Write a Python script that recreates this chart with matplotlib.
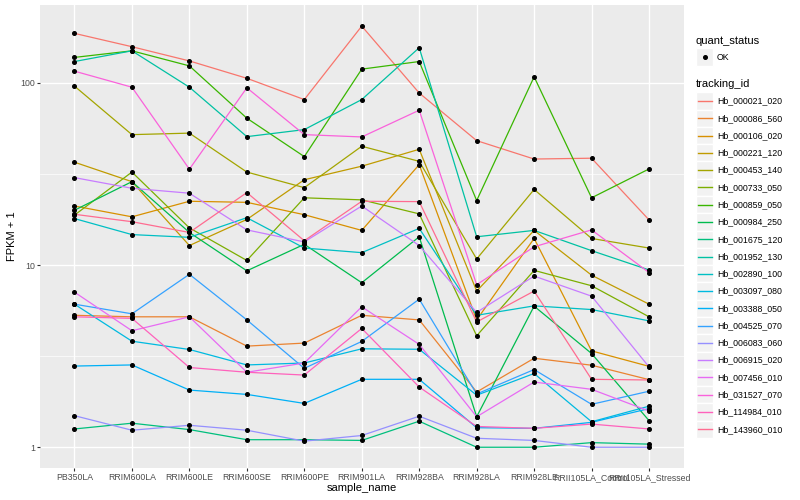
import matplotlib
matplotlib.use("Agg")
import matplotlib.pyplot as plt
from matplotlib.patches import Rectangle
from matplotlib.lines import Line2D

plt.rcParams['font.family'] = ['Liberation Sans', 'DejaVu Sans']

# sample names on the x axis
samples = ['PB350LA', 'RRIM600LA', 'RRIM600LE', 'RRIM600SE', 'RRIM600PE', 'RRIM901LA',
           'RRIM928BA', 'RRIM928LA', 'RRIM928LE', 'RRII105LA_Control', 'RRII105LA_Stressed']

# FPKM + 1 per tracking id
hb_000021_020 = [187, 158, 132, 106, 81, 205, 88, 48.2, 38.2, 38.6, 17.7]
hb_000086_560 = [5.3, 5.2, 5.2, 3.59, 3.73, 5.3, 5.0, 2.01, 3.08, 2.82, 2.35]
hb_000106_020 = [21.1, 18.4, 22.4, 22.1, 18.9, 15.5, 35.6, 5.0, 14.0, 3.38, 2.78]
hb_000221_120 = [36.7, 28.7, 12.8, 17.8, 29.4, 34.9, 43.2, 7.2, 15.5, 8.8, 6.1]
hb_000453_140 = [96, 52, 53, 32.4, 26.6, 44.9, 37.1, 10.8, 26, 14.0, 12.4]
hb_000733_050 = [18.8, 32.4, 16.0, 10.6, 23.4, 22.8, 19.1, 4.09, 9.35, 7.7, 5.2]
hb_000859_050 = [138, 150, 124, 64, 39.4, 119, 131, 22.6, 108, 23.4, 33.7]
hb_000984_250 = [20.0, 28.7, 15.1, 9.3, 13.0, 8.0, 14.3, 1.47, 5.95, 3.27, 1.40]
hb_001675_120 = [1.26, 1.355, 1.25, 1.10, 1.10, 1.09, 1.39, 1.0, 1.0, 1.06, 1.04]
hb_001952_130 = [131, 150, 94.7, 50.7, 55.4, 81, 156, 14.3, 15.5, 12.0, 9.4]
hb_002890_100 = [18.0, 14.7, 14.2, 18.2, 12.4, 11.7, 15.9, 5.3, 5.97, 5.7, 4.94]
hb_003097_080 = [6.1, 3.82, 3.44, 2.83, 2.90, 3.47, 3.45, 1.93, 2.54, 1.38, 1.68]
hb_003388_050 = [2.79, 2.83, 2.06, 1.95, 1.74, 2.36, 2.36, 1.28, 1.27, 1.37, 1.63]
hb_004525_070 = [6.1, 5.4, 8.9, 5.0, 2.71, 3.81, 6.5, 1.96, 2.67, 1.72, 2.03]
hb_006083_060 = [1.49, 1.24, 1.32, 1.24, 1.08, 1.16, 1.48, 1.12, 1.09, 1.0, 1.0]
hb_006915_020 = [30.2, 26.4, 24.8, 15.6, 13.4, 21.1, 12.8, 5.5, 8.7, 6.75, 2.76]
hb_007456_010 = [7.1, 4.36, 5.2, 2.58, 2.90, 5.9, 3.67, 1.47, 2.28, 2.08, 1.58]
hb_031527_070 = [116, 94.7, 33.6, 94, 52, 50.5, 70.8, 7.8, 12.6, 15.6, 9.1]
hb_114984_010 = [5.2, 5.1, 2.74, 2.58, 2.49, 4.49, 2.14, 1.30, 1.27, 1.34, 1.26]
hb_143960_010 = [19.0, 17.3, 15.1, 25, 13.6, 22.4, 22.3, 4.87, 7.2, 2.36, 2.34]

tracking_ids = ['Hb_000021_020', 'Hb_000086_560', 'Hb_000106_020', 'Hb_000221_120',
                'Hb_000453_140', 'Hb_000733_050', 'Hb_000859_050', 'Hb_000984_250',
                'Hb_001675_120', 'Hb_001952_130', 'Hb_002890_100', 'Hb_003097_080',
                'Hb_003388_050', 'Hb_004525_070', 'Hb_006083_060', 'Hb_006915_020',
                'Hb_007456_010', 'Hb_031527_070', 'Hb_114984_010', 'Hb_143960_010']
series = [hb_000021_020, hb_000086_560, hb_000106_020, hb_000221_120, hb_000453_140,
          hb_000733_050, hb_000859_050, hb_000984_250, hb_001675_120, hb_001952_130,
          hb_002890_100, hb_003097_080, hb_003388_050, hb_004525_070, hb_006083_060,
          hb_006915_020, hb_007456_010, hb_031527_070, hb_114984_010, hb_143960_010]

# ggplot hue palette, 20 levels
colors = ['#F8766D', '#EA8331', '#D89000', '#C09B00', '#A3A500', '#7CAE00', '#39B600',
          '#00BB4E', '#00BF7D', '#00C1A3', '#00BFC4', '#00BAE0', '#00B0F6', '#35A2FF',
          '#9590FF', '#C77CFF', '#E76BF3', '#FA62DB', '#FF62BC', '#FF6C91']

W, H = 800, 500
fig = plt.figure(figsize=(8, 5), dpi=100)
ax = fig.add_axes([40 / W, 1 - 468.3 / H, (683.5 - 40) / W, (468.3 - 5) / H])
ax.set_facecolor('#EBEBEB')
for s in ax.spines.values():
    s.set_visible(False)

x = list(range(1, len(samples) + 1))
for vals, col in zip(series, colors):
    ax.plot(x, vals, color=col, lw=0.9, zorder=3)
for vals in series:
    ax.plot(x, vals, 'o', color='black', ms=2.6, zorder=4)

ax.set_yscale('log')
ax.set_ylim(10 ** -0.1156, 10 ** 2.4276)
ax.set_xlim(0.4, 11.6)
ax.set_yticks([1, 10, 100])
ax.set_yticklabels(['1', '10', '100'])
ax.set_yticks([10 ** 0.5, 10 ** 1.5], minor=True)
ax.yaxis.set_minor_formatter(plt.NullFormatter())
ax.set_xticks(x)
ax.set_xticklabels(samples)
ax.grid(which='major', color='white', lw=1.0, zorder=0)
ax.grid(which='minor', axis='y', color='white', lw=0.5, zorder=0)
ax.set_axisbelow(True)
ax.tick_params(which='major', length=2.0, width=0.8, color='#333333',
               labelsize=6.3, labelcolor='#4D4D4D', pad=1.5)
ax.tick_params(which='minor', length=0)

fig.text(361.7 / W, 1 - 488 / H, 'sample_name', ha='center', va='center', fontsize=8)
fig.text(12 / W, 1 - 236.5 / H, 'FPKM + 1', ha='center', va='center', rotation=90, fontsize=8)

# legend
def fx(px):
    return px / W

def fy(py):
    return 1 - py / H

kw, kh = 17.28, 17.28
fig.text(fx(696), fy(40.7), 'quant_status', ha='left', va='center', fontsize=8)
fig.patches.append(Rectangle((fx(696), fy(57 + kh / 2)), kw / W, kh / H,
                             transform=fig.transFigure, facecolor='#F2F2F2',
                             edgecolor='white', lw=1))
fig.lines.append(Line2D([fx(696 + kw / 2)], [fy(57)], marker='o', color='black', ms=2.6,
                        transform=fig.transFigure))
fig.text(fx(717), fy(57), 'OK', ha='left', va='center', fontsize=6.3)

fig.text(fx(696), fy(84.3), 'tracking_id', ha='left', va='center', fontsize=8)
for i, (name, col) in enumerate(zip(tracking_ids, colors)):
    cy = 101 + i * 17.28
    fig.patches.append(Rectangle((fx(696), fy(cy + kh / 2)), kw / W, kh / H,
                                 transform=fig.transFigure, facecolor='#F2F2F2',
                                 edgecolor='white', lw=1))
    fig.lines.append(Line2D([fx(698), fx(712)], [fy(cy), fy(cy)], color=col, lw=1.0,
                            transform=fig.transFigure))
    fig.text(fx(717), fy(cy), name, ha='left', va='center', fontsize=6.3)

fig.savefig('out.png', dpi=100)
